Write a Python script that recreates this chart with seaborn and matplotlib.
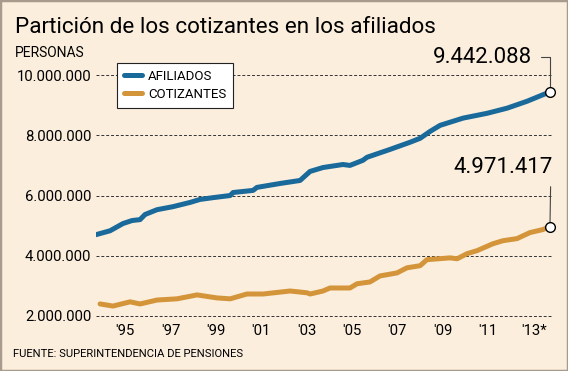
import numpy as np
import pandas as pd
import matplotlib
matplotlib.use("Agg")
import matplotlib.pyplot as plt
import seaborn as sns
from matplotlib.ticker import FuncFormatter
from matplotlib.patches import Rectangle

# values (years as decimal, people in millions)
afil_year = [1993.72, 1994.34, 1994.91, 1995.31, 1995.66, 1995.88, 1996.41, 1997.11,
             1997.86, 1998.30, 1998.88, 1999.63, 1999.76, 2000.64, 2000.81, 2001.83,
             2002.71, 2003.15, 2003.59, 2003.72, 2004.60, 2004.91, 2005.48, 2005.66,
             2006.67, 2007.56, 2008.00, 2008.44, 2008.88, 2009.89, 2010.95, 2011.83,
             2012.71, 2013.72]
afil_mill = [4.70, 4.83, 5.07, 5.17, 5.20, 5.37, 5.53, 5.63,
             5.77, 5.87, 5.93, 6.00, 6.10, 6.17, 6.27, 6.40,
             6.50, 6.80, 6.90, 6.93, 7.03, 7.00, 7.17, 7.27,
             7.53, 7.77, 7.90, 8.13, 8.33, 8.57, 8.73, 8.90,
             9.13, 9.442088]

cot_year = [1993.90, 1994.47, 1995.22, 1995.66, 1996.41, 1997.29, 1998.17, 1999.05,
            1999.63, 2000.37, 2001.08, 2002.27, 2003.02, 2003.15, 2003.72, 2004.03,
            2004.91, 2005.22, 2005.79, 2006.23, 2006.98, 2007.42, 2008.00, 2008.30,
            2009.32, 2009.63, 2010.07, 2010.51, 2011.21, 2011.65, 2012.27, 2012.84,
            2013.41, 2013.72]
cot_mill = [2.40, 2.33, 2.47, 2.40, 2.53, 2.57, 2.70, 2.60,
            2.57, 2.73, 2.73, 2.83, 2.77, 2.73, 2.83, 2.93,
            2.93, 3.07, 3.13, 3.33, 3.43, 3.60, 3.67, 3.87,
            3.93, 3.90, 4.07, 4.17, 4.40, 4.50, 4.57, 4.77,
            4.87, 4.971417]

tick_years = [1995, 1997, 1999, 2001, 2003, 2005, 2007, 2009, 2011, 2013]
tick_labels = ["'95", "'97", "'99", "'01", "'03", "'05", "'07", "'09", "'11", "'13*"]

BG = "#fbeedd"
BLUE = "#19699a"
GOLD = "#d4953a"
INK = "#000000"

sns.set_style("white")
plt.rcParams["font.family"] = ["Roboto", "DejaVu Sans"]

df_a = pd.DataFrame({"year": afil_year, "personas": np.array(afil_mill) * 1e6})
df_c = pd.DataFrame({"year": cot_year, "personas": np.array(cot_mill) * 1e6})

fig = plt.figure(figsize=(5.68, 3.71), dpi=100, facecolor=BG)
ax = fig.add_axes([96 / 568, 51 / 371, 456 / 568, 260 / 371])
ax.set_facecolor(BG)

sns.lineplot(data=df_a, x="year", y="personas", color=BLUE, lw=3.6, ax=ax,
             label="AFILIADOS", solid_capstyle="round")
sns.lineplot(data=df_c, x="year", y="personas", color=GOLD, lw=3.6, ax=ax,
             label="COTIZANTES", solid_capstyle="round")

ax.set_xlim(1993.72, 2013.81)
ax.set_ylim(1.867e6, 10.5e6)
ax.set_yticks([2e6, 4e6, 6e6, 8e6, 10e6])
ax.yaxis.set_major_formatter(FuncFormatter(lambda v, p: f"{int(v):,}".replace(",", ".")))
ax.set_xticks(tick_years)
ax.set_xticklabels(tick_labels)
ax.tick_params(length=0, labelsize=10.7, colors=INK)
ax.tick_params(axis="y", pad=3.5)
ax.tick_params(axis="x", pad=3)
ax.set_xlabel("")
ax.set_ylabel("")
ax.grid(axis="y", ls=(0, (3, 2)), color="#333333", lw=0.7)
ax.grid(axis="x", visible=False)
sns.despine(ax=ax, left=True, bottom=True)

leg = ax.legend(loc="upper left", bbox_to_anchor=(0.046, 0.988), borderaxespad=0,
                fontsize=9.5, handlelength=1.4, handletextpad=0.45,
                labelspacing=0.4, borderpad=0.5, fancybox=False,
                framealpha=1, facecolor="white", edgecolor="#222222")
leg.get_frame().set_linewidth(0.8)
for t in leg.get_texts():
    t.set_color(INK)

# end-point callouts
for yrs, vals, off, ha_va, rel, conn in [
    (afil_year, afil_mill, (-13, 25), ("right", "center"), (1, 0.5),
     "angle,angleA=0,angleB=90,rad=0"),
    (cot_year, cot_mill, (2, 35), ("right", "bottom"), (0.98, 0), "arc3"),
]:
    xe, ye = yrs[-1], vals[-1] * 1e6
    ax.annotate(f"{int(round(ye)):,}".replace(",", "."), xy=(xe, ye), xytext=off,
                textcoords="offset points", ha=ha_va[0], va=ha_va[1], fontsize=16,
                color=INK, annotation_clip=False,
                arrowprops=dict(arrowstyle="-", color="#444444", lw=0.8, shrinkA=4,
                                shrinkB=0, relpos=rel, connectionstyle=conn))
    ax.plot([xe], [ye], "o", ms=7, mfc="white", mec="black", mew=1, zorder=6,
            clip_on=False)

fig.text(15 / 568, 1 - 33 / 371, "Partición de los cotizantes en los afiliados",
         fontsize=16.2, va="baseline", ha="left", color=INK)
fig.text(15 / 568, 1 - 57 / 371, "PERSONAS", fontsize=10, va="baseline",
         ha="left", color=INK)
fig.text(13 / 568, 1 - 357 / 371, "FUENTE: SUPERINTENDENCIA DE PENSIONES",
         fontsize=8.1, va="baseline", ha="left", color=INK)

fig.patches.append(Rectangle((0, 0), 1, 1, transform=fig.transFigure, fill=False,
                             edgecolor="#a89a8c", lw=2.5))

fig.savefig("out.png", dpi=100, facecolor=BG)
